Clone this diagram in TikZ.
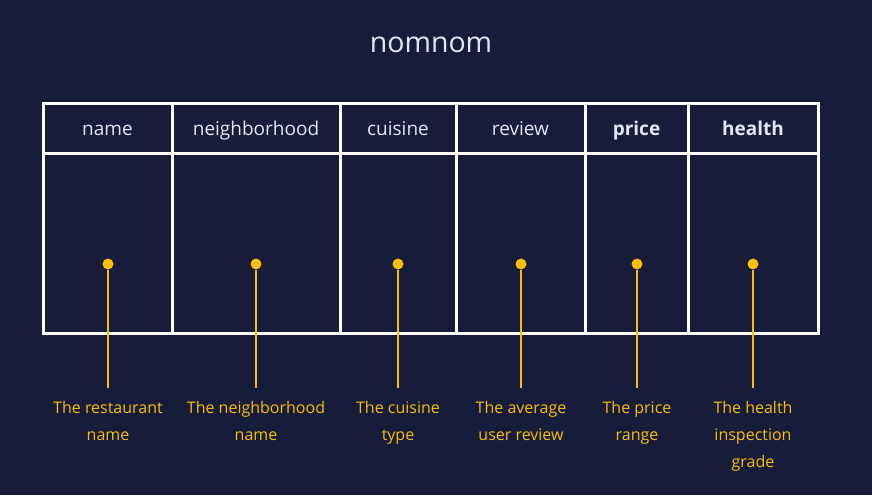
\documentclass[tikz,border=0pt]{standalone}
\usepackage{fontspec}
\setmainfont{Open Sans}
\usepackage{tikz}
\usetikzlibrary{positioning}
\definecolor{navy}{RGB}{22,28,58}
\definecolor{gold}{RGB}{250,190,10}
\definecolor{paper}{RGB}{226,230,245}
\tikzstyle{head}=[rectangle,draw=white,line width=3pt,text=paper,inner sep=0mm,minimum height=50pt,text height=16pt,text depth=2pt,font=\fontsize{19}{22}\selectfont]
\tikzstyle{cell}=[rectangle,draw=white,line width=3pt,inner sep=0mm,minimum height=180pt]
\tikzstyle{dot}=[circle,fill=gold,inner sep=0mm,minimum size=11pt]
\tikzstyle{lbl}=[anchor=north,text=gold,align=center,inner xsep=0pt,inner ysep=13pt,font=\fontsize{16}{27}\selectfont]
\tikzstyle{lead}=[draw=gold,line width=2.4pt]
\tikzset{every picture/.style={
    x=1pt,y=-1pt
  }
}
\begin{document}
\begin{tikzpicture}
      \fill[navy] (0,0) rectangle (872,495);
      \useasboundingbox (0,0) rectangle (872,495);
      \node[text=paper,font=\fontsize{28.5}{32}\selectfont] at (431,45) (title) {nomnom};
      \node[head,minimum width=129pt] at (107.5,128) (h1) {name};
      \node[head,minimum width=168pt] at (256,128) (h2) {neighborhood};
      \node[head,minimum width=116pt] at (398,128) (h3) {cuisine};
      \node[head,minimum width=129pt] at (520.5,128) (h4) {review};
      \node[head,minimum width=103pt] at (636.5,128) (h5) {\textbf{price}};
      \node[head,minimum width=130pt] at (753,128) (h6) {\textbf{health}};
      \node[cell,minimum width=129pt] at (107.5,243) (c1) {};
      \node[cell,minimum width=168pt] at (256,243) (c2) {};
      \node[cell,minimum width=116pt] at (398,243) (c3) {};
      \node[cell,minimum width=129pt] at (520.5,243) (c4) {};
      \node[cell,minimum width=103pt] at (636.5,243) (c5) {};
      \node[cell,minimum width=130pt] at (753,243) (c6) {};
      \node[dot] at (108,264) (d1) {};
      \node[dot] at (256,264) (d2) {};
      \node[dot] at (398,264) (d3) {};
      \node[dot] at (521,264) (d4) {};
      \node[dot] at (637,264) (d5) {};
      \node[dot] at (753,264) (d6) {};
      \node[lbl] at (108,388) (l1) {The restaurant\\name};
      \node[lbl] at (256,388) (l2) {The neighborhood\\name};
      \node[lbl] at (398,388) (l3) {The cuisine\\type};
      \node[lbl] at (521,388) (l4) {The average\\user review};
      \node[lbl] at (637,388) (l5) {The price\\range};
      \node[lbl] at (753,388) (l6) {The health\\inspection\\grade};
      \draw[lead] (d1) -- (l1);
      \draw[lead] (d2) -- (l2);
      \draw[lead] (d3) -- (l3);
      \draw[lead] (d4) -- (l4);
      \draw[lead] (d5) -- (l5);
      \draw[lead] (d6) -- (l6);
    \end{tikzpicture}
\end{document}
